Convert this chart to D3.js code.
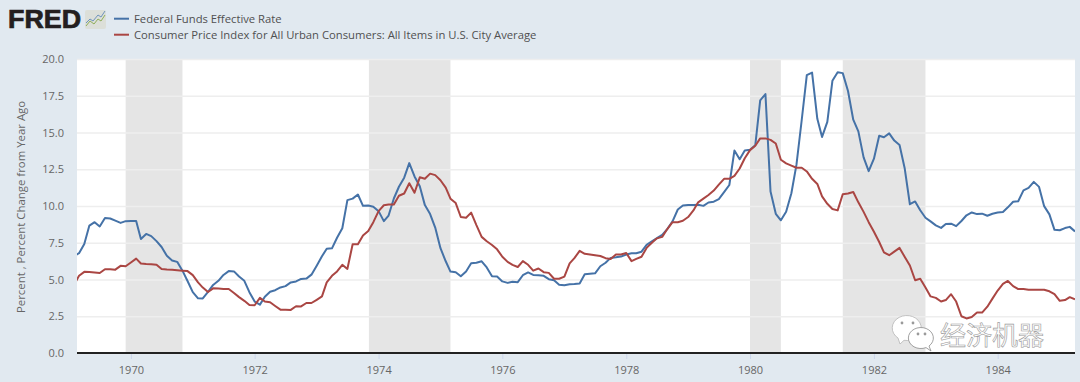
<!DOCTYPE html>
<html>
<head>
<meta charset="utf-8">
<script src="https://cdn.jsdelivr.net/npm/d3@7"></script>
<style>
  html, body { margin: 0; padding: 0; background: #e1e9f0; }
  svg { display: block; font-family: "Open Sans", sans-serif; }
  .axis text { fill: #666; font-size: 11px; font-family: "Open Sans", sans-serif; }
  .legend text { fill: #505050; font-size: 11.28px; }
</style>
</head>
<body>
<svg id="chart"></svg>
<script>
// monthly, Feb 1969 .. Apr 1985
const FIRST_MONTH = new Date(1969, 1, 1);
const fedFunds = [
  6.61, 6.79, 7.41, 8.67, 8.90, 8.61, 9.19, 9.15, 9.00, 8.85, 8.97,
  8.98, 8.98, 7.76, 8.10, 7.95, 7.61, 7.21, 6.61, 6.29, 6.20, 5.60, 4.90,
  4.14, 3.72, 3.71, 4.16, 4.63, 4.91, 5.31, 5.57, 5.55, 5.20, 4.91, 4.14,
  3.50, 3.29, 3.83, 4.17, 4.27, 4.46, 4.55, 4.80, 4.87, 5.04, 5.06, 5.33,
  5.94, 6.58, 7.09, 7.12, 7.84, 8.49, 10.40, 10.50, 10.78, 10.01, 10.03, 9.95,
  9.65, 8.97, 9.35, 10.51, 11.31, 11.93, 12.92, 12.01, 11.34, 10.06, 9.45, 8.53,
  7.13, 6.24, 5.54, 5.49, 5.22, 5.55, 6.10, 6.14, 6.24, 5.82, 5.22, 5.20,
  4.87, 4.77, 4.84, 4.82, 5.29, 5.48, 5.31, 5.29, 5.25, 5.02, 4.95, 4.65,
  4.61, 4.68, 4.69, 4.73, 5.35, 5.39, 5.42, 5.90, 6.14, 6.47, 6.51, 6.56,
  6.70, 6.78, 6.79, 6.89, 7.36, 7.60, 7.81, 8.04, 8.45, 8.96, 9.76, 10.03,
  10.07, 10.06, 10.09, 10.01, 10.24, 10.29, 10.47, 10.94, 11.43, 13.77, 13.18, 13.78,
  13.82, 14.13, 17.19, 17.61, 10.98, 9.47, 9.03, 9.61, 10.87, 12.81, 15.85, 18.90,
  19.08, 15.93, 14.70, 15.72, 18.52, 19.10, 19.04, 17.82, 15.87, 15.08, 13.31, 12.37,
  13.22, 14.78, 14.68, 14.94, 14.45, 14.15, 12.59, 10.12, 10.31, 9.71, 9.20, 8.95,
  8.68, 8.51, 8.77, 8.80, 8.63, 8.98, 9.37, 9.56, 9.45, 9.48, 9.34, 9.47,
  9.56, 9.59, 9.91, 10.29, 10.32, 11.06, 11.23, 11.64, 11.30, 9.99, 9.43, 8.38,
  8.35, 8.50, 8.58, 8.27
];
const cpiChange = [
  4.68, 5.25, 5.52, 5.51, 5.48, 5.44, 5.70, 5.70, 5.67, 5.93, 5.90,
  6.16, 6.42, 6.09, 6.06, 6.04, 6.01, 5.71, 5.68, 5.66, 5.63, 5.60, 5.57,
  5.30, 4.80, 4.45, 4.15, 4.40, 4.38, 4.36, 4.35, 4.08, 3.80, 3.55, 3.27,
  3.25, 3.75, 3.50, 3.45, 3.20, 2.95, 2.95, 2.93, 3.18, 3.17, 3.40, 3.40,
  3.62, 3.85, 4.80, 5.25, 5.55, 6.00, 5.72, 7.40, 7.40, 8.00, 8.30, 8.90,
  9.65, 10.05, 10.10, 10.10, 10.70, 10.85, 11.55, 10.90, 11.95, 11.85, 12.20, 12.10,
  11.75, 11.25, 10.50, 10.20, 9.25, 9.20, 9.55, 8.70, 7.90, 7.60, 7.35, 7.05,
  6.55, 6.20, 6.00, 5.85, 6.25, 6.00, 5.60, 5.75, 5.50, 5.45, 5.05, 5.05,
  5.20, 6.10, 6.45, 6.95, 6.75, 6.70, 6.65, 6.60, 6.45, 6.40, 6.70, 6.70,
  6.80, 6.25, 6.40, 6.55, 7.15, 7.50, 7.80, 7.90, 8.45, 8.90, 8.90, 9.00,
  9.25, 9.70, 10.25, 10.50, 10.75, 11.05, 11.45, 11.85, 11.85, 12.05, 12.55, 13.25,
  13.80, 14.10, 14.60, 14.60, 14.50, 14.25, 13.15, 12.90, 12.75, 12.60, 12.60, 12.35,
  11.85, 11.50, 10.65, 10.15, 9.80, 9.70, 10.80, 10.85, 10.95, 10.25, 9.60, 8.90,
  8.25, 7.55, 6.85, 6.65, 6.90, 7.15, 6.55, 5.95, 4.95, 5.05, 4.45, 3.85,
  3.75, 3.50, 3.60, 4.00, 3.50, 2.50, 2.35, 2.45, 2.75, 2.75, 3.15, 3.70,
  4.25, 4.70, 4.90, 4.55, 4.35, 4.35, 4.30, 4.30, 4.30, 4.30, 4.20, 4.00,
  3.55, 3.60, 3.80, 3.65
];
const recessions = [
  [new Date(1969, 11, 1), new Date(1970, 10, 1)],
  [new Date(1973, 10, 5), new Date(1975, 2, 1)],
  [new Date(1980, 0, 1), new Date(1980, 6, 1)],
  [new Date(1981, 6, 1), new Date(1982, 10, 1)]
];
const yTicks = [0, 2.5, 5, 7.5, 10, 12.5, 15, 17.5, 20];
const xTickYears = [1970, 1972, 1974, 1976, 1978, 1980, 1982, 1984];
const seriesNames = ["Federal Funds Effective Rate", "Consumer Price Index for All Urban Consumers: All Items in U.S. City Average"];
const seriesColors = ["#4572a7", "#aa4643"];
const Y_TITLE = "Percent , Percent Change from Year Ago";

const WIDTH = 1080, HEIGHT = 382;
const MARGIN = {top: 59, right: 5, bottom: 29, left: 77};

const svg = d3.select("#chart").attr("width", WIDTH).attr("height", HEIGHT);

const months = fedFunds.map((_, i) => d3.timeMonth.offset(FIRST_MONTH, i));

const xScale = d3.scaleTime()
  .domain([new Date(1969, 1, 17), new Date(1985, 3, 1)])
  .range([MARGIN.left, WIDTH - MARGIN.right]);
const yScale = d3.scaleLinear()
  .domain([0, 20])
  .range([HEIGHT - MARGIN.bottom, MARGIN.top]);

svg.append("defs").append("clipPath").attr("id", "plot-clip")
  .append("rect")
  .attr("x", MARGIN.left).attr("y", MARGIN.top)
  .attr("width", WIDTH - MARGIN.left - MARGIN.right)
  .attr("height", HEIGHT - MARGIN.top - MARGIN.bottom);

// plot background
svg.append("rect")
  .attr("x", MARGIN.left).attr("y", MARGIN.top)
  .attr("width", WIDTH - MARGIN.left - MARGIN.right)
  .attr("height", HEIGHT - MARGIN.top - MARGIN.bottom)
  .attr("fill", "#fff");

// recession bands
svg.append("g").selectAll("rect").data(recessions).join("rect")
  .attr("x", d => xScale(d[0]))
  .attr("width", d => xScale(d[1]) - xScale(d[0]))
  .attr("y", MARGIN.top)
  .attr("height", HEIGHT - MARGIN.top - MARGIN.bottom)
  .attr("fill", "#e5e5e5");

// y axis + grid
const yAxis = svg.append("g")
  .attr("class", "axis y")
  .attr("transform", `translate(${MARGIN.left},0)`)
  .call(d3.axisLeft(yScale)
    .tickValues(yTicks)
    .tickFormat(d3.format(".1f"))
    .tickSize(-(WIDTH - MARGIN.left - MARGIN.right))
    .tickPadding(13));
yAxis.select(".domain").remove();
yAxis.selectAll("line").attr("stroke", "#eeeeee").attr("stroke-width", 1.5);

// x axis
const xAxis = svg.append("g")
  .attr("class", "axis x")
  .attr("transform", `translate(0,${HEIGHT - MARGIN.bottom})`)
  .call(d3.axisBottom(xScale)
    .tickValues(xTickYears.map(y => new Date(y, 0, 1)))
    .tickFormat(d3.timeFormat("%Y"))
    .tickSize(6)
    .tickPadding(7)
    .tickSizeOuter(0));
xAxis.select(".domain").remove();
xAxis.selectAll("line").attr("stroke", "#ccd6eb");

svg.append("line")
  .attr("x1", MARGIN.left).attr("x2", WIDTH - MARGIN.right)
  .attr("y1", yScale(0)).attr("y2", yScale(0))
  .attr("stroke", "#222").attr("stroke-width", 2);

// series
const line = d3.line()
  .x((d, i) => xScale(months[i]))
  .y(d => yScale(d))
  .curve(d3.curveLinear);

svg.append("g").attr("clip-path", "url(#plot-clip)")
  .selectAll("path").data([fedFunds, cpiChange]).join("path")
  .attr("d", line)
  .attr("fill", "none")
  .attr("stroke", (d, i) => seriesColors[i])
  .attr("stroke-width", 2)
  .attr("stroke-linejoin", "round");

// y title
svg.append("text")
  .attr("transform", "translate(25,207) rotate(-90)")
  .attr("text-anchor", "middle")
  .attr("fill", "#666")
  .style("font-size", "11.4px")
  .text(Y_TITLE);

// legend
const legend = svg.append("g").attr("class", "legend");
seriesNames.forEach((name, i) => {
  const y = 18.7 + i * 16;
  legend.append("line")
    .attr("x1", 114).attr("x2", 129).attr("y1", y).attr("y2", y)
    .attr("stroke", seriesColors[i]).attr("stroke-width", 2);
  legend.append("text").attr("x", 134).attr("y", y + 4).text(name);
});

// FRED logo
const logo = svg.append("g");
logo.append("text")
  .attr("x", 8).attr("y", 28)
  .attr("textLength", 73).attr("lengthAdjust", "spacingAndGlyphs")
  .attr("fill", "#231f20")
  .style("font-family", "'Liberation Sans', sans-serif")
  .style("font-weight", "bold")
  .style("font-size", "25px")
  .style("stroke", "#231f20").style("stroke-width", 0.7)
  .text("FRED");
logo.append("rect").attr("x", 85).attr("y", 10).attr("width", 21).attr("height", 19).attr("rx", 2).attr("fill", "#dcdfd9");
const icon = d3.line();
logo.append("path").attr("d", icon([[86, 23], [90, 19], [93, 21], [98, 15], [101, 17], [105, 11]]))
  .attr("fill", "none").attr("stroke", "#6f93bb").attr("stroke-width", 1);
logo.append("path").attr("d", icon([[86, 26], [90, 21], [94, 24], [98, 19], [101, 21], [105, 15]]))
  .attr("fill", "none").attr("stroke", "#8fae5a").attr("stroke-width", 1);

// watermark
const mark = svg.append("g").attr("fill", "#fff").attr("stroke", "#b5b5b5").attr("stroke-width", 0.8);
mark.append("path").attr("d", "M 904 340.3 L 900 344 L 898 338 A 14.5 12.5 0 1 1 904 340.3 Z");
mark.append("path").attr("d", "M 926 347.6 L 931 351 L 929 346 A 12.5 10.5 0 1 0 926 347.6 Z").attr("stroke", "#8a8a8a");
mark.selectAll("circle").data([[902, 323], [913, 323], [918, 334], [925, 334]]).join("circle")
  .attr("cx", d => d[0]).attr("cy", d => d[1]).attr("r", 1.4).attr("fill", "#9a9a9a").attr("stroke", "none");
svg.append("text")
  .attr("x", 940).attr("y", 345)
  .attr("fill", "#fff").attr("stroke", "#999").attr("stroke-width", 0.6)
  .style("font-family", "'Noto Sans CJK SC', sans-serif")
  .style("font-size", "26px")
  .text("经济机器");
</script>
</body>
</html>
